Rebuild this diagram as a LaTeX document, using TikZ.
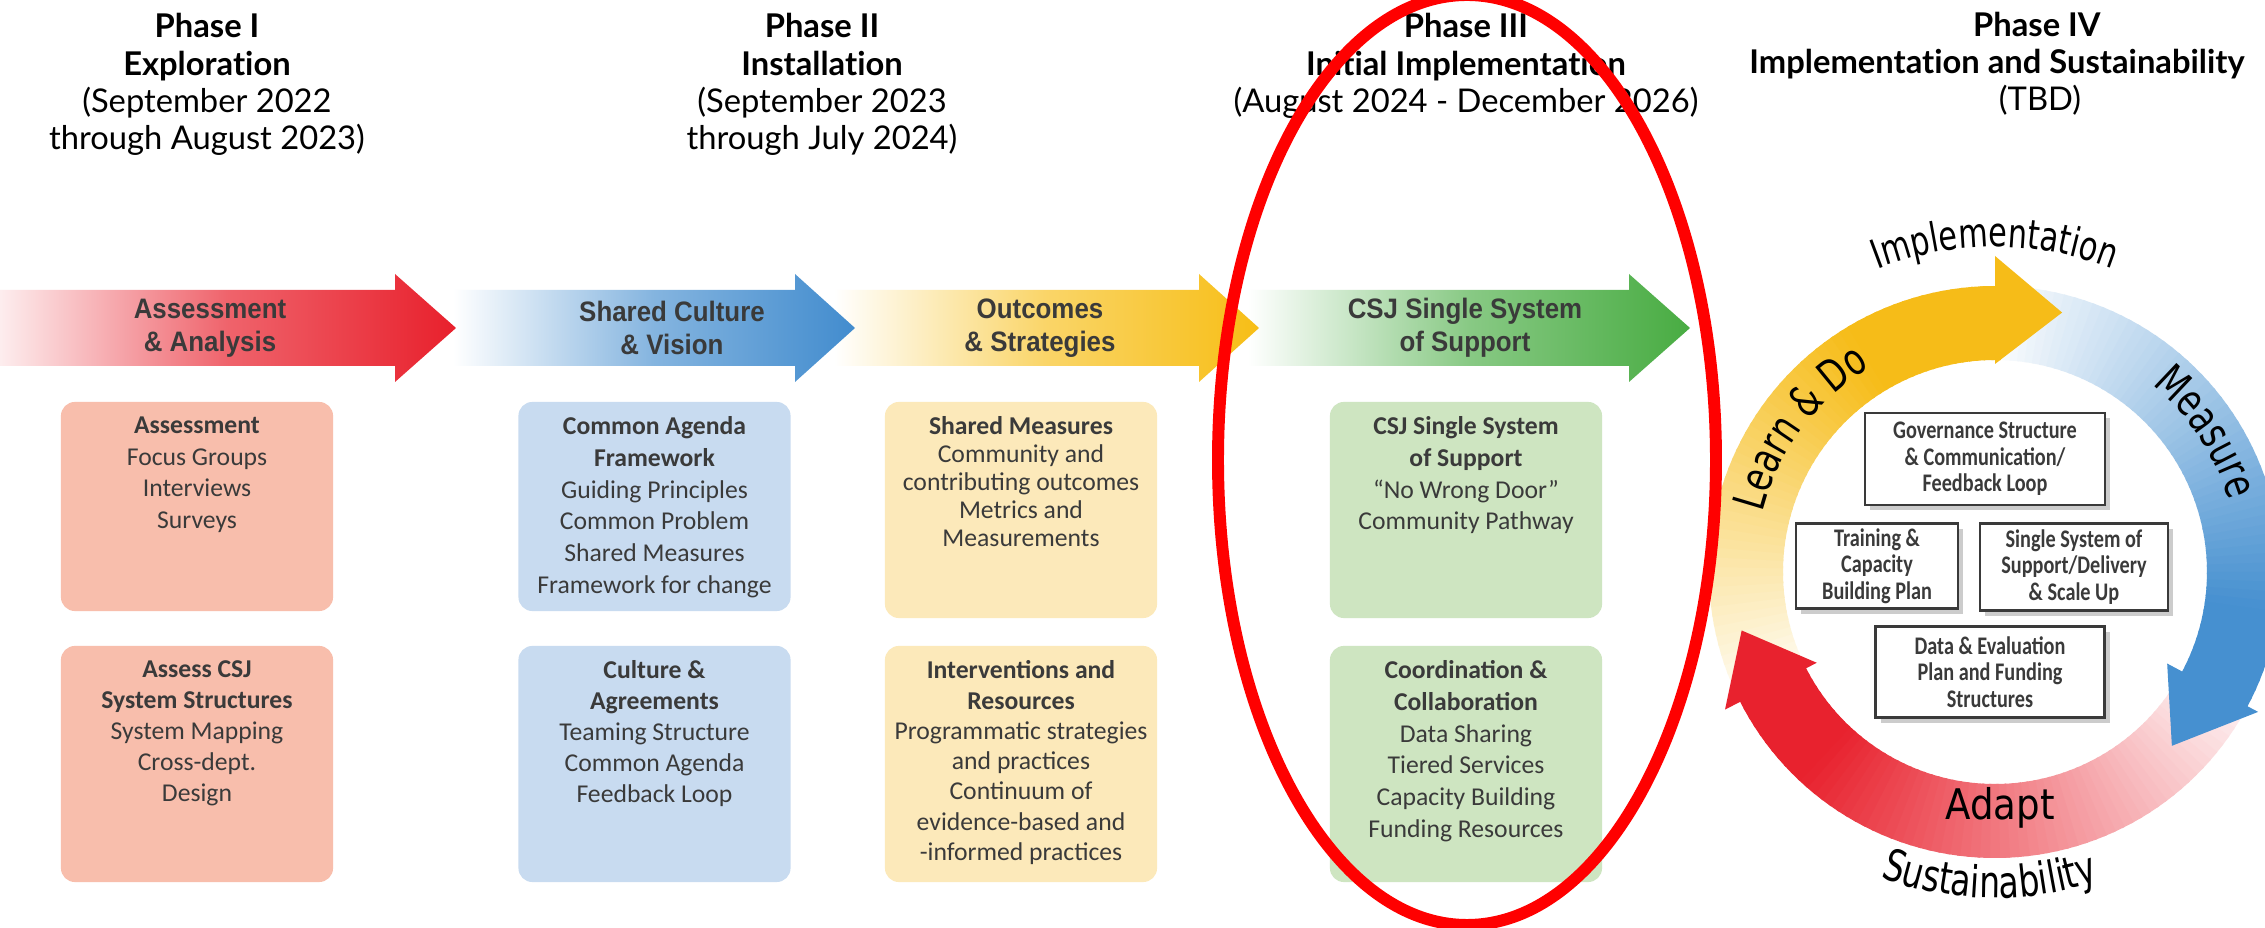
\documentclass[tikz,border=0pt]{standalone}
\usepackage{fontspec}
\setmainfont{Lato}[Ligatures={NoCommon,NoContextual}]
\newfontfamily\boxfont{Carlito}
\newfontfamily\bandfont[FakeStretch=0.92]{Liberation Sans}
\newfontfamily\cyclefont[FakeStretch=0.8]{Carlito}
\newfontfamily\ringfont[FakeStretch=0.75]{DejaVu Sans}
\newfontfamily\adaptfont[FakeStretch=0.88]{DejaVu Sans}
\usetikzlibrary{positioning}
\usetikzlibrary{shadows}
\usetikzlibrary{decorations.text}

\definecolor{arrred}{RGB}{232,32,44}
\definecolor{arrblue}{RGB}{66,140,206}
\definecolor{arramber}{RGB}{247,190,22}
\definecolor{arrgreen}{RGB}{72,172,66}
\definecolor{boxred}{RGB}{248,190,172}
\definecolor{boxblue}{RGB}{200,219,240}
\definecolor{boxamber}{RGB}{252,233,186}
\definecolor{boxgreen}{RGB}{206,229,193}
\definecolor{ringyel}{RGB}{246,188,24}
\definecolor{ringblue}{RGB}{70,144,208}
\definecolor{ringred}{RGB}{232,34,46}
\definecolor{inkgray}{RGB}{58,58,58}
\definecolor{ovalred}{RGB}{255,0,0}

\tikzset{
  phasehead/.style={align=center, anchor=north, inner sep=0pt, font=\fontsize{9.3}{10.6}\selectfont},
  bandtext/.style={align=center, inner sep=0pt, text=inkgray, font=\bandfont\bfseries\fontsize{8}{9.4}\selectfont},
  phasebox/.style={rounded corners=4pt, minimum width=2.72cm, inner sep=0pt},
  boxtext/.style={align=center, anchor=north, inner sep=0pt, text=inkgray, font=\boxfont\fontsize{7.3}{9}\selectfont},
  cyclebox/.style={draw=inkgray, line width=0.7pt, fill=white, inner sep=0pt, align=center, text=inkgray,
    drop shadow={shadow xshift=1.5pt, shadow yshift=-1.5pt, opacity=0.4},
    font=\cyclefont\bfseries\fontsize{7.2}{7.5}\selectfont},
  ringword/.style 2 args={decorate, decoration={text along path, text align=center,
    text={|\ringfont\fontsize{#1}{#1}\selectfont|#2}}},
}

\begin{document}
\begin{tikzpicture}[x=0.01cm, y=-0.01cm]
\useasboundingbox (0,0) rectangle (2265,928);
\clip (0,0) rectangle (2265,928);
\fill[white] (0,0) rectangle (2265,928);

% phase headings
\node[phasehead] (hdA) at (207,13) {\textbf{Phase I}\\\textbf{Exploration}\\(September 2022\\through August 2023)};
\node[phasehead] (hdB) at (822,13) {\textbf{Phase II}\\\textbf{Installation}\\(September 2023\\through July 2024)};
\node[phasehead] (hdC) at (1466,13) {\textbf{Phase III}\\\textbf{Initial Implementation}\\(August 2024 - December 2026)};
\node[phasehead, anchor=base] (hdD) at (2037,37) {\textbf{Phase IV}};
\node[phasehead, anchor=base] (hdDname) at (1997,74) {\textbf{Implementation and Sustainability}};
\node[phasehead, anchor=base] (hdDdate) at (2040,111) {(TBD)};

% band arrows, drawn right to left so each tip lies on the next tail
\shade[left color=white, right color=arrgreen, middle color=arrgreen!65] (1248,290) -- (1629,290) -- (1629,274) -- (1690,328) -- (1629,382) -- (1629,366) -- (1248,366) -- cycle;
\shade[left color=white, right color=arramber, middle color=arramber!65] (834,290) -- (1199,290) -- (1199,274) -- (1259,328) -- (1199,382) -- (1199,366) -- (834,366) -- cycle;
\shade[left color=white, right color=arrblue, middle color=arrblue!65] (453,290) -- (795,290) -- (795,274) -- (855,328) -- (795,382) -- (795,366) -- (453,366) -- cycle;
\shade[left color=arrred!8, right color=arrred, middle color=arrred!70] (0,290) -- (395,290) -- (395,274) -- (456,328) -- (395,382) -- (395,366) -- (0,366) -- cycle;

\node[bandtext] (bandA) at (210,328) {Assessment\\\& Analysis};
\node[bandtext] (bandB) at (672,328) {Shared Culture\\\& Vision};
\node[bandtext] (bandC) at (1040,328) {Outcomes\\\& Strategies};
\node[bandtext] (bandD) at (1465,328) {CSJ Single System\\of Support};

% phase boxes
\node[phasebox, fill=boxred, minimum height=2.09cm] (boxA1) at (197,506.5) {};
\node[phasebox, fill=boxred, minimum height=2.36cm] (boxA2) at (197,764) {};
\node[phasebox, fill=boxblue, minimum height=2.09cm] (boxB1) at (654.5,506.5) {};
\node[phasebox, fill=boxblue, minimum height=2.36cm] (boxB2) at (654.5,764) {};
\node[phasebox, fill=boxamber, minimum height=2.16cm] (boxC1) at (1021,510) {};
\node[phasebox, fill=boxamber, minimum height=2.36cm] (boxC2) at (1021,764) {};
\node[phasebox, fill=boxgreen, minimum height=2.16cm] (boxD1) at (1466,510) {};
\node[phasebox, fill=boxgreen, minimum height=2.36cm] (boxD2) at (1466,764) {};

\node[boxtext, below=0.15cm of boxA1.north] (txtA1) {\textbf{Assessment}\\Focus Groups\\Interviews\\Surveys};
\node[boxtext, below=0.15cm of boxA2.north, font=\boxfont\fontsize{7.3}{8.8}\selectfont] (txtA2) {\textbf{Assess CSJ}\\\textbf{System Structures}\\System Mapping\\Cross-dept.\\Design};
\node[boxtext, below=0.15cm of boxB1.north] (txtB1) {\textbf{Common Agenda}\\\textbf{Framework}\\Guiding Principles\\Common Problem\\Shared Measures\\Framework for change};
\node[boxtext, below=0.15cm of boxB2.north, font=\boxfont\fontsize{7.3}{8.8}\selectfont] (txtB2) {\textbf{Culture \&}\\\textbf{Agreements}\\Teaming Structure\\Common Agenda\\Feedback Loop};
\node[boxtext, below=0.15cm of boxC1.north, font=\boxfont\fontsize{7.3}{7.9}\selectfont] (txtC1) {\textbf{Shared Measures}\\Community and\\contributing outcomes\\Metrics and\\Measurements};
\node[boxtext, below=0.15cm of boxC2.north, font=\boxfont\fontsize{7.3}{8.6}\selectfont] (txtC2) {\textbf{Interventions and}\\\textbf{Resources}\\Programmatic strategies\\and practices\\Continuum of\\evidence-based and\\-informed practices};
\node[boxtext, below=0.15cm of boxD1.north] (txtD1) {\textbf{CSJ Single System}\\\textbf{of Support}\\“No Wrong Door”\\Community Pathway};
\node[boxtext, below=0.15cm of boxD2.north] (txtD2) {\textbf{Coordination \&}\\\textbf{Collaboration}\\Data Sharing\\Tiered Services\\Capacity Building\\Funding Resources};

% implementation cycle
\begin{scope}[shift={(1995,572)}, y=0.01cm]
\foreach \a in {207,205,...,91} {
  \pgfmathsetmacro\b{\a-2.6}
  \pgfmathsetmacro\p{min(100,6+94*(207-\a)/85)}
  \fill[ringyel!\p!white] (\a:212) arc[start angle=\a, end angle=\b, radius=212] -- (\b:286) arc[start angle=\b, end angle=\a, radius=286] -- cycle;
}
\foreach \a in {88,86,...,-26} {
  \pgfmathsetmacro\b{\a-2.6}
  \pgfmathsetmacro\p{min(100,4+96*(88-\a)/95)}
  \fill[ringblue!\p!white] (\a:212) arc[start angle=\a, end angle=\b, radius=212] -- (\b:286) arc[start angle=\b, end angle=\a, radius=286] -- cycle;
}
\foreach \a in {331,329,...,209} {
  \pgfmathsetmacro\b{\a-2.6}
  \pgfmathsetmacro\p{min(100,8+92*(331-\a)/103)}
  \fill[ringred!\p!white] (\a:212) arc[start angle=\a, end angle=\b, radius=212] -- (\b:286) arc[start angle=\b, end angle=\a, radius=286] -- cycle;
}
\fill[ringyel] (90:208) -- (90:316) -- (75.5:268) -- cycle;
\fill[ringblue] (-28:195) -- (-28:298) -- (-44.5:248) -- cycle;
\fill[ringred] (207:200) -- (207:303) -- (193:260) -- cycle;

\path[ringword={11.5}{Implementation}] (125:325) arc[start angle=125, end angle=55, radius=325];
\path[ringword={12.5}{Learn {\&} Do}] (186:240) arc[start angle=186, end angle=101, radius=240];
\path[ringword={12.5}{Measure}] (71:245) arc[start angle=71, end angle=-4, radius=245];
\path[ringword={12.5}{Sustainability}] (228:326) arc[start angle=228, end angle=310, radius=326];
\end{scope}
\node[inner sep=0pt, font=\adaptfont\fontsize{12}{12}\selectfont] (adapt) at (2000,808) {Adapt};

\node[cyclebox, minimum width=2.40cm, minimum height=0.92cm] (gov) at (1985,459) {Governance Structure\\\& Communication/\\Feedback Loop};
\node[cyclebox, minimum width=1.62cm, minimum height=0.85cm] (train) at (1877,566) {Training \&\\Capacity\\Building Plan};
\node[cyclebox, minimum width=1.88cm, minimum height=0.87cm] (single) at (2074,567) {Single System of\\Support/Delivery\\\& Scale Up};
\node[cyclebox, minimum width=2.29cm, minimum height=0.91cm] (data) at (1990,672) {Data \& Evaluation\\Plan and Funding\\Structures};

% highlight round phase III
\draw[ovalred, line width=3.4pt] (1467,460) ellipse [x radius=249, y radius=465];
\end{tikzpicture}
\end{document}
